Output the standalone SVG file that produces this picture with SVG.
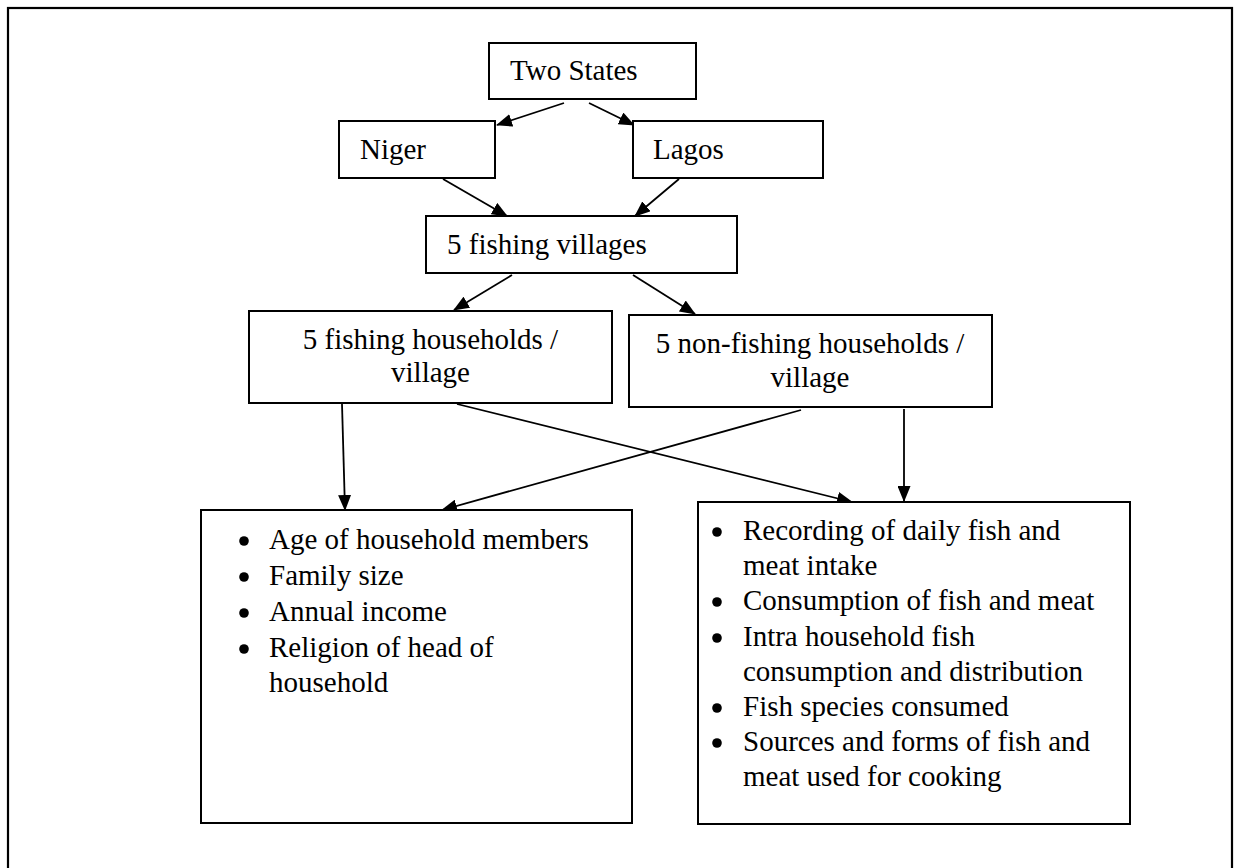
<svg xmlns="http://www.w3.org/2000/svg" width="1239" height="868" viewBox="0 0 1239 868">
<defs>
<style>
.box{fill:#fff;stroke:#000;stroke-width:2}
.t{font-family:"Liberation Serif","Times New Roman",serif;font-size:29px;fill:#000}
.c{text-anchor:middle}
.ln{stroke:#000;stroke-width:1.8;fill:none;marker-end:url(#ah)}
.b{fill:#000}
</style>
<marker id="ah" viewBox="0 0 16 13" refX="15" refY="6.5" markerWidth="16" markerHeight="13" markerUnits="userSpaceOnUse" orient="auto">
<path d="M0,0 L16,6.5 L0,13 Z" fill="#000"/>
</marker>
</defs>
<rect x="0" y="0" width="1239" height="868" fill="#fff"/>
<rect x="8" y="8" width="1224" height="880" fill="none" stroke="#000" stroke-width="2.2"/>
<g id="connectors">
<line class="ln" x1="564" y1="103" x2="497" y2="125"/>
<line class="ln" x1="589" y1="103" x2="634" y2="125"/>
<line class="ln" x1="443" y1="179" x2="507" y2="216"/>
<line class="ln" x1="679" y1="179" x2="635" y2="216"/>
<line class="ln" x1="512" y1="275" x2="454" y2="310"/>
<line class="ln" x1="633" y1="275" x2="695" y2="314"/>
<line class="ln" x1="342" y1="404" x2="345" y2="510"/>
<line class="ln" x1="457" y1="404" x2="852" y2="502"/>
<line class="ln" x1="801" y1="410" x2="442" y2="510"/>
<line class="ln" x1="904" y1="409" x2="904" y2="501"/>
</g>
<g id="two-states">
<rect class="box" x="489" y="43" width="207" height="56"/>
<text class="t" x="510" y="80">Two States</text>
</g>
<g id="niger">
<rect class="box" x="339" y="121" width="156" height="57"/>
<text class="t" x="360" y="159">Niger</text>
</g>
<g id="lagos">
<rect class="box" x="633" y="121" width="190" height="57"/>
<text class="t" x="653" y="159">Lagos</text>
</g>
<g id="villages">
<rect class="box" x="426" y="216" width="311" height="57"/>
<text class="t" x="447" y="254">5 fishing villages</text>
</g>
<g id="fishing-hh">
<rect class="box" x="249" y="311" width="363" height="92"/>
<text class="t c" x="430.5" y="349">5 fishing households /</text>
<text class="t c" x="430.5" y="382">village</text>
</g>
<g id="nonfishing-hh">
<rect class="box" x="629" y="315" width="363" height="92"/>
<text class="t c" x="810" y="353">5 non-fishing households /</text>
<text class="t c" x="810" y="387">village</text>
</g>
<g id="household-info">
<rect class="box" x="201" y="510" width="431" height="313"/>
<circle class="b" cx="244" cy="541" r="4.8"/>
<circle class="b" cx="244" cy="577" r="4.8"/>
<circle class="b" cx="244" cy="613" r="4.8"/>
<circle class="b" cx="244" cy="649" r="4.8"/>
<text class="t" x="269" y="549">Age of household members</text>
<text class="t" x="269" y="585">Family size</text>
<text class="t" x="269" y="621">Annual income</text>
<text class="t" x="269" y="657">Religion of head of</text>
<text class="t" x="269" y="692">household</text>
</g>
<g id="consumption-info">
<rect class="box" x="698" y="502" width="432" height="322"/>
<circle class="b" cx="717" cy="532" r="4.8"/>
<circle class="b" cx="717" cy="602" r="4.8"/>
<circle class="b" cx="717" cy="638" r="4.8"/>
<circle class="b" cx="717" cy="708" r="4.8"/>
<circle class="b" cx="717" cy="743" r="4.8"/>
<text class="t" x="743" y="540">Recording of daily fish and</text>
<text class="t" x="743" y="575">meat intake</text>
<text class="t" x="743" y="610">Consumption of fish and meat</text>
<text class="t" x="743" y="646">Intra household fish</text>
<text class="t" x="743" y="681">consumption and distribution</text>
<text class="t" x="743" y="716">Fish species consumed</text>
<text class="t" x="743" y="751">Sources and forms of fish and</text>
<text class="t" x="743" y="786">meat used for cooking</text>
</g>
</svg>
